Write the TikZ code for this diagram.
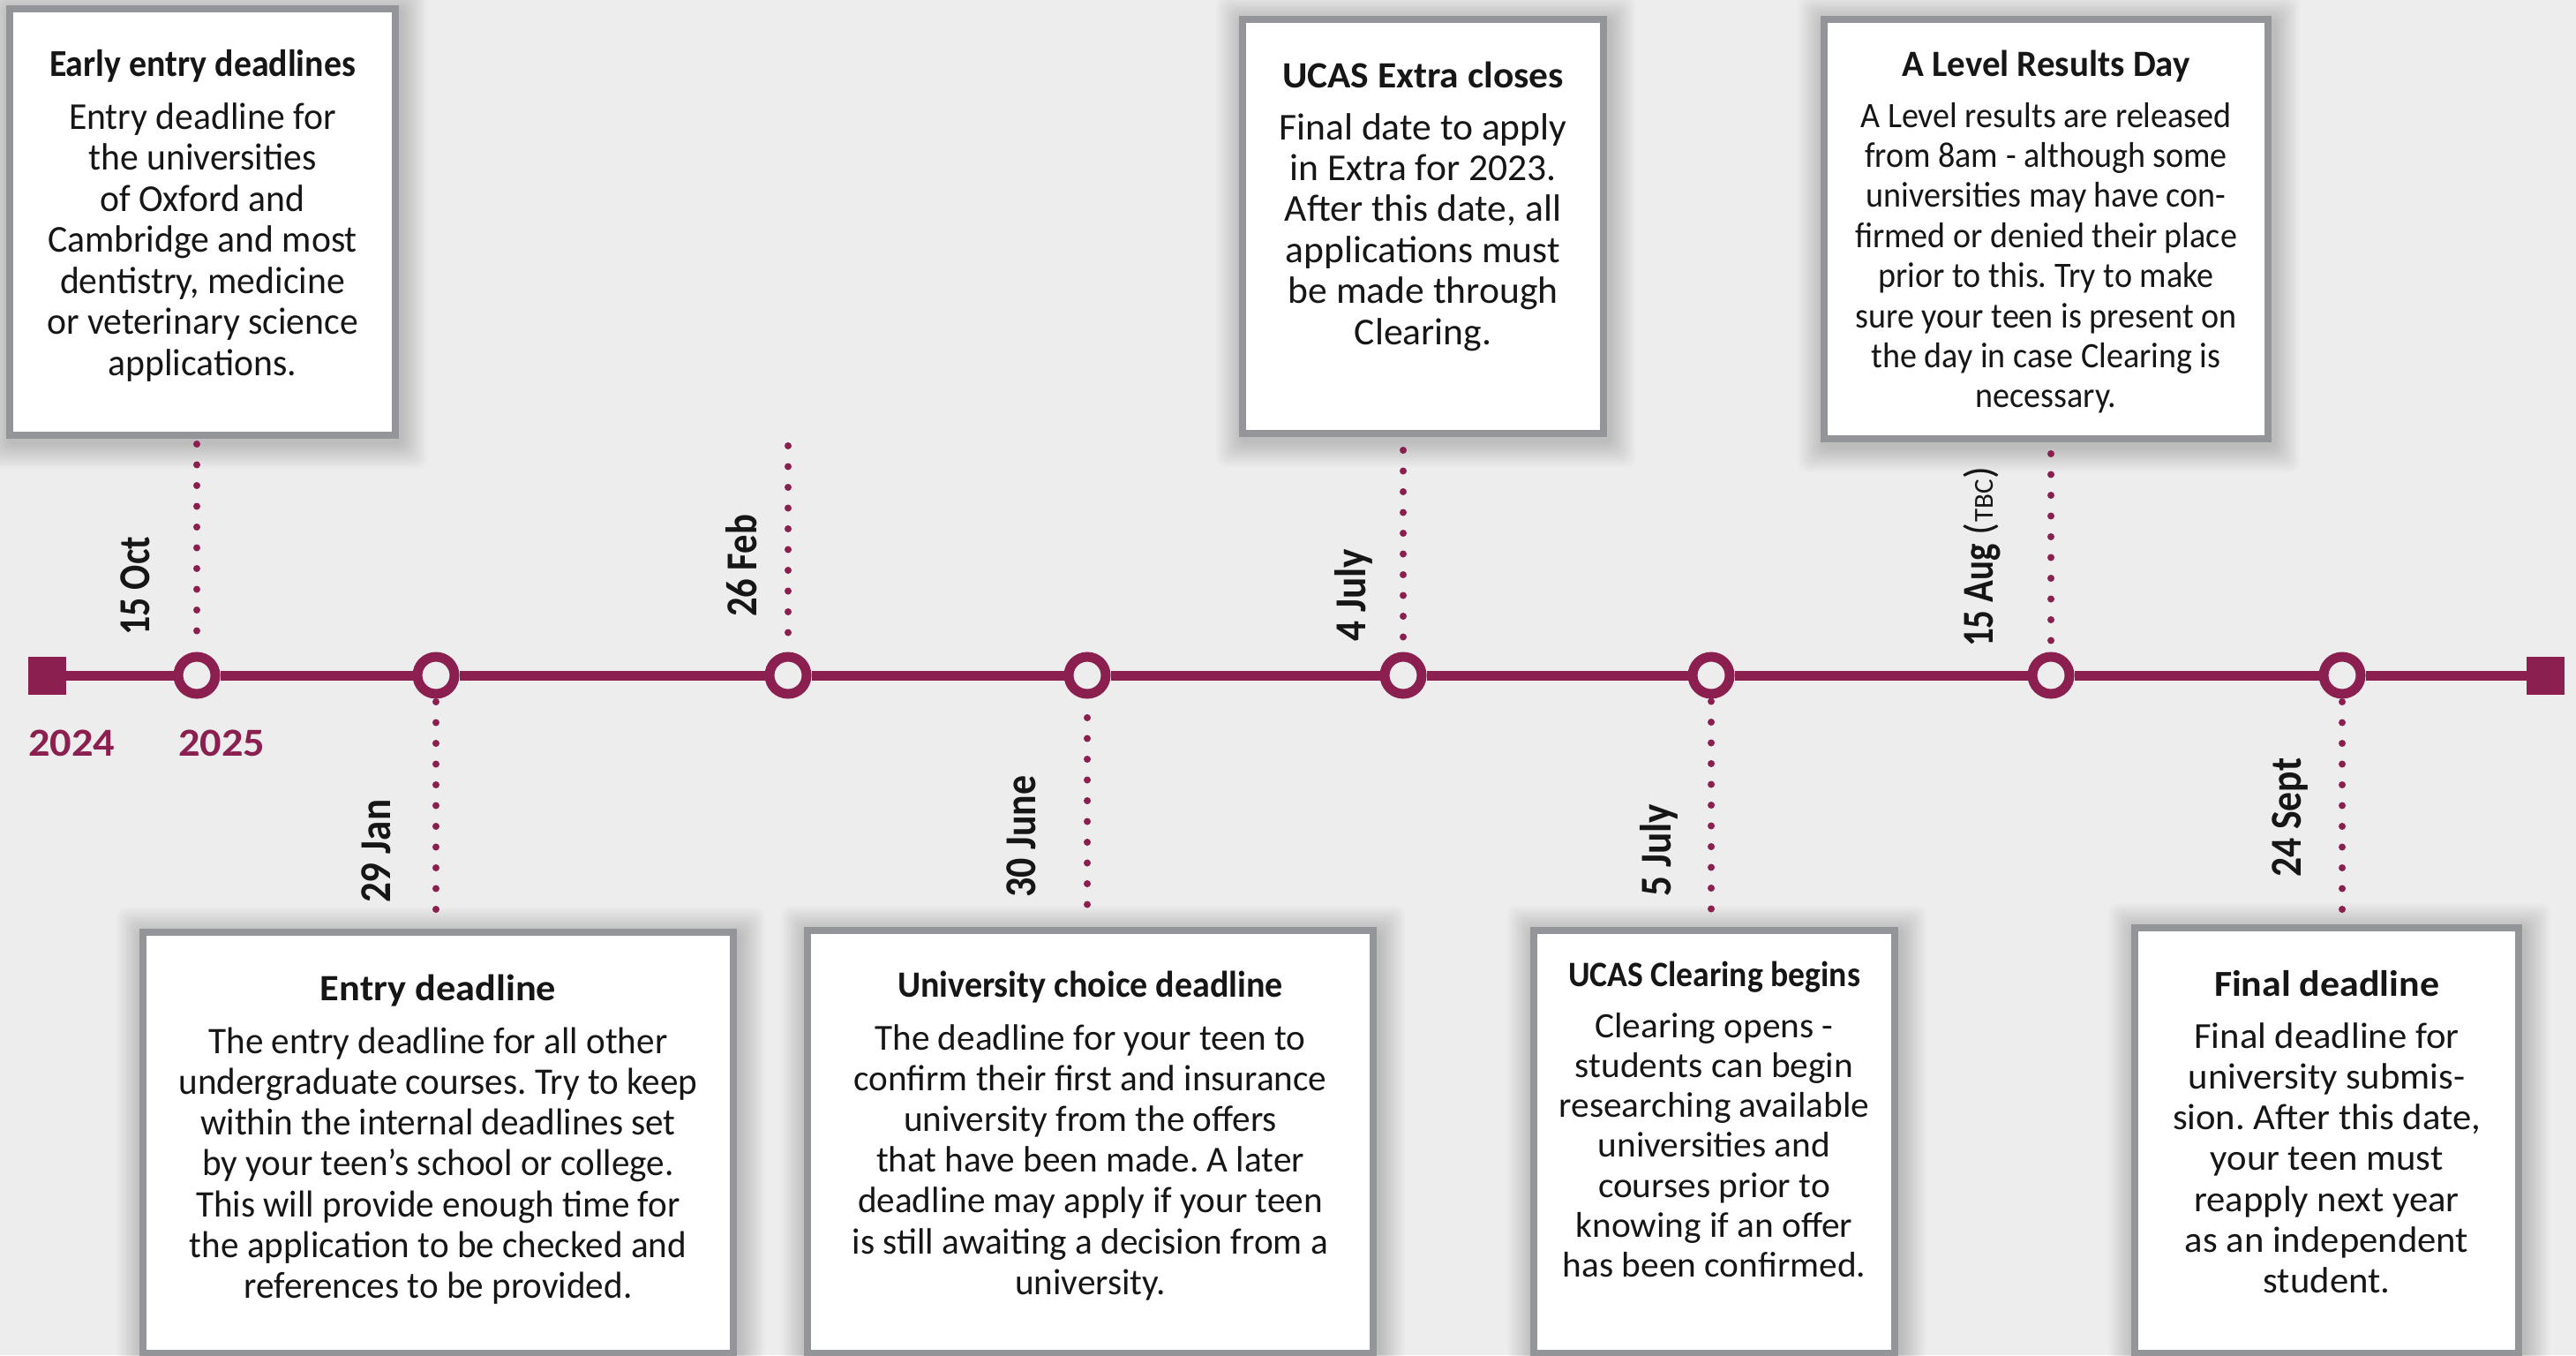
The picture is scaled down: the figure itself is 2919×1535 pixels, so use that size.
\documentclass[tikz,border=0pt]{standalone}
\usepackage{fontspec}
\setmainfont{Carlito}
\usepackage{graphicx}
\definecolor{bg}{HTML}{EDEDED}
\definecolor{plum}{HTML}{8A1F50}
\definecolor{framegrey}{HTML}{939598}
\definecolor{ink}{HTML}{161616}
\newcommand\softshadow[4]{%
  \foreach \k in {1,...,12}{%
    \fill[shadowfill] ({#1+3-2.4*\k},{#2+5-2.4*\k}) rectangle ({#3+3+2.4*\k},{#4+5+2.4*\k});}}
\newcommand\bodyblock[4]{\fontsize{#1}{#2}\selectfont\frenchspacing\resizebox{#3}{\height}{\begin{tabular}[t]{@{}c@{}}#4\end{tabular}}}
\newcommand\titleblock[3]{\fontsize{#1}{#1}\selectfont\bfseries\resizebox{#2}{\height}{#3}}
\begin{document}
\frenchspacing
\begin{tikzpicture}[x=1pt,y=-1pt,
  infobox/.style={draw=framegrey, line width=8pt, fill=white, inner sep=0pt},
  shadowfill/.style={fill=black, fill opacity=0.016, rounded corners=10pt},
  titletext/.style={anchor=base, inner sep=0pt, text=ink},
  bodytext/.style={anchor=base, inner sep=0pt, text=ink},
  datelabel/.style={rotate=90, anchor=base west, inner sep=0pt, text=ink, font=\fontsize{50}{60}\selectfont\bfseries},
  yearlabel/.style={anchor=base west, inner sep=0pt, text=plum, font=\fontsize{45}{50}\selectfont\bfseries},
  mainline/.style={draw=plum, line width=11pt},
  milestone/.style={circle, draw=plum, fill=bg, line width=11pt, minimum size=42pt, inner sep=0pt},
  endcap/.style={rectangle, fill=plum, minimum size=43pt, inner sep=0pt},
  dotline/.style={draw=plum, line width=8pt, line cap=round, dash pattern=on 0pt off 23.5pt}
]
\useasboundingbox (0,0) rectangle (2919,1535);
\fill[bg] (0,0) rectangle (2919,1535);

% ---------- shadows ----------
\softshadow{7}{6}{452}{497}
\softshadow{1404}{18}{1821}{495}
\softshadow{2063}{18}{2574}{501}
\softshadow{158}{1052}{835}{1537}
\softshadow{911}{1050}{1560}{1537}
\softshadow{1734}{1050}{2151}{1537}
\softshadow{2415}{1047}{2858}{1537}

% ---------- boxes ----------
\node[infobox, minimum width=437pt, minimum height=483pt] (early) at (229.5,251.5) {};
\node[infobox, minimum width=409pt, minimum height=469pt] (extra) at (1612.5,256.5) {};
\node[infobox, minimum width=503pt, minimum height=475pt] (alevel) at (2318.5,259.5) {};
\node[infobox, minimum width=669pt, minimum height=477pt] (entry) at (496.5,1294.5) {};
\node[infobox, minimum width=641pt, minimum height=479pt] (choice) at (1235.5,1293.5) {};
\node[infobox, minimum width=409pt, minimum height=479pt] (clearing) at (1942.5,1293.5) {};
\node[infobox, minimum width=435pt, minimum height=482pt] (final) at (2636.5,1292) {};

% ---------- box texts ----------
\node[titletext] (earlyH) at (229.5,86) {\titleblock{43}{347pt}{Early entry deadlines}};
\node[bodytext] (earlyB) at (229.5,146) {\bodyblock{43}{46.5}{352.5pt}{Entry deadline for\\the universities\\of Oxford and\\Cambridge and most\\dentistry, medicine\\or veterinary science\\applications.}};

\node[titletext] (extraH) at (1612.5,99) {\titleblock{42}{319pt}{UCAS Extra closes}};
\node[bodytext] (extraB) at (1612.5,158) {\bodyblock{43}{46.4}{326pt}{Final date to apply\\in Extra for 2023.\\After this date, all\\applications must\\be made through\\Clearing.}};

\node[titletext] (alevelH) at (2318.5,86) {\titleblock{42}{326.5pt}{A Level Results Day}};
\node[bodytext] (alevelB) at (2318.5,144) {\bodyblock{40.5}{45.4}{433pt}{A Level results are released\\from 8am - although some\\universities may have con-\\firmed or denied their place\\prior to this. Try to make\\sure your teen is present on\\the day in case Clearing is\\necessary.}};

\node[titletext] (entryH) at (496.5,1133) {\titleblock{42}{267pt}{Entry deadline}};
\node[bodytext] (entryB) at (496.5,1193) {\bodyblock{42.5}{46.3}{588pt}{The entry deadline for all other\\undergraduate courses. Try to keep\\within the internal deadlines set\\by your teen’s school or college.\\This will provide enough time for\\the application to be checked and\\references to be provided.}};

\node[titletext] (choiceH) at (1235.5,1129) {\titleblock{42}{437pt}{University choice deadline}};
\node[bodytext] (choiceB) at (1235.5,1189) {\bodyblock{41.5}{46.2}{539pt}{The deadline for your teen to\\confirm their first and insurance\\university from the offers\\that have been made. A later\\deadline may apply if your teen\\is still awaiting a decision from a\\university.}};

\node[titletext] (clearingH) at (1942.5,1117) {\titleblock{40.5}{331pt}{UCAS Clearing begins}};
\node[bodytext] (clearingB) at (1942.5,1175) {\bodyblock{40.5}{45.3}{351.5pt}{Clearing opens -\\students can begin\\researching available\\universities and\\courses prior to\\knowing if an offer\\has been confirmed.}};

\node[titletext] (finalH) at (2636.5,1128) {\titleblock{41.5}{255pt}{Final deadline}};
\node[bodytext] (finalB) at (2636.5,1187) {\bodyblock{41.5}{46.3}{349pt}{Final deadline for\\university submis-\\sion. After this date,\\your teen must\\reapply next year\\as an independent\\student.}};

% ---------- timeline ----------
\node[endcap] (startcap) at (53.5,765) {};
\node[endcap] (stopcap) at (2884.5,765) {};
\node[milestone] (c1) at (223,765) {};
\node[milestone] (c2) at (494,765) {};
\node[milestone] (c3) at (893,765) {};
\node[milestone] (c4) at (1232,765) {};
\node[milestone] (c5) at (1590,765) {};
\node[milestone] (c6) at (1939,765) {};
\node[milestone] (c7) at (2324,765) {};
\node[milestone] (c8) at (2654,765) {};
\draw[mainline] (startcap) -- (c1) -- (c2) -- (c3) -- (c4) -- (c5) -- (c6) -- (c7) -- (c8) -- (stopcap);

\node[yearlabel] (y2024) at (32,856) {\resizebox{98pt}{\height}{2024}};
\node[yearlabel] (y2025) at (202,856) {\resizebox{98pt}{\height}{2025}};

% ---------- dotted connectors ----------
\coordinate (febtop) at (893,505);
\draw[dotline, shorten <=6pt, shorten >=6pt] (c1 |- early.south) -- (c1.north);
\draw[dotline, shorten <=3.5pt, shorten >=15pt] (c2.south) -- (c2 |- entry.north);
\draw[dotline, shorten >=3.5pt] (febtop) -- (c3.north);
\draw[dotline, shorten <=21.5pt, shorten >=17pt] (c4.south) -- (c4 |- choice.north);
\draw[dotline, shorten <=15pt, shorten >=12.5pt] (c5 |- extra.south) -- (c5.north);
\draw[dotline, shorten <=3pt, shorten >=12pt] (c6.south) -- (c6 |- clearing.north);
\draw[dotline, shorten <=13pt, shorten >=12.5pt] (c7 |- alevel.south) -- (c7.north);
\draw[dotline, shorten <=3.5pt, shorten >=7pt] (c8.south) -- (c8 |- final.north);

% ---------- date labels ----------
\node[datelabel] (d1) at (169,720) {\resizebox{112pt}{\height}{15 Oct}};
\node[datelabel] (d2) at (442,1023) {\resizebox{117pt}{\height}{29 Jan}};
\node[datelabel] (d3) at (857,699) {\resizebox{116pt}{\height}{26 Feb}};
\node[datelabel] (d4) at (1173,1017) {\resizebox{138pt}{\height}{30 June}};
\node[datelabel] (d5) at (1547,727) {\resizebox{105pt}{\height}{4 July}};
\node[datelabel] (d6) at (1893,1016) {\resizebox{105pt}{\height}{5 July}};
\node[datelabel] (d7) at (2258,733) {\resizebox{117pt}{\height}{15 Aug}\hspace{9pt}{\mdseries\fontsize{46}{50}\selectfont(\hspace{1pt}{\fontsize{31}{34}\selectfont TBC}\hspace{1pt})}};
\node[datelabel] (d8) at (2607,994) {\resizebox{135pt}{\height}{24 Sept}};
\end{tikzpicture}
\end{document}
